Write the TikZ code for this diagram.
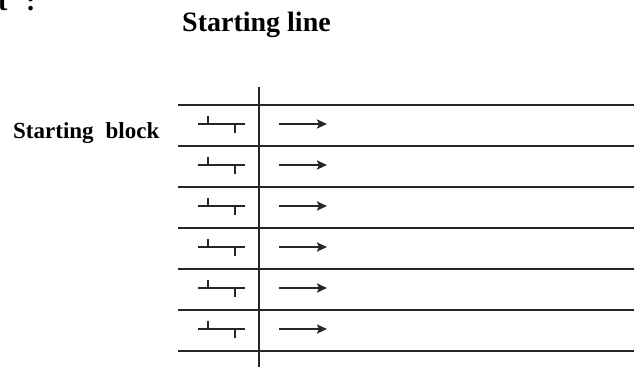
\documentclass[tikz,border=0pt]{standalone}
\usepackage{fontspec}
\setmainfont{Liberation Serif}
\usetikzlibrary{arrows.meta}
\begin{document}
\begin{tikzpicture}[x=1pt,y=-1pt,
  lane/.style={line width=2.5pt,black!85},
  startln/.style={line width=2.7pt,black!85},
  blk/.style={line width=2pt,black!85},
  runarrow/.style={line width=2.1pt,black!85,-{Stealth[length=10pt,width=9pt,inset=2pt]}},
  lbl/.style={inner sep=0pt,anchor=base west,font=\bfseries}]
\useasboundingbox (0,0) rectangle (634,367);
\clip (0,0) rectangle (634,367);
% clipped fragment at the top left
\node[lbl,font=\bfseries\fontsize{28}{30}\selectfont] (frag) at (-2,10) {t};
\node[lbl,font=\bfseries\fontsize{28}{30}\selectfont] (fragcolon) at (26,10) {:};
% labels
\node[lbl,font=\bfseries\fontsize{28}{30}\selectfont] (title) at (182,31) {Starting line};
\node[lbl,font=\bfseries\fontsize{23}{25}\selectfont] (sblock) at (13,138) {Starting\hspace{12pt}block};
% lane lines
\foreach \k in {0,...,6}{
  \pgfmathsetmacro{\yy}{105+41*\k}
  \coordinate (la\k) at (178,\yy);
  \coordinate (lb\k) at (634,\yy);
  \draw[lane] (la\k) -- (lb\k);
}
% starting line
\coordinate (vtop) at (259,87);
\coordinate (vbot) at (259,367);
\draw[startln] (vtop) -- (vbot);
% starting blocks and arrows
\foreach \k in {0,...,5}{
  \pgfmathsetmacro{\yc}{124+41*\k}
  \coordinate (bs\k) at (198,\yc);
  \coordinate (be\k) at (245,\yc);
  \draw[blk] (bs\k) -- (be\k);
  \draw[blk] (208,\yc) -- ++(0,-8.5);
  \draw[blk] (235,\yc) -- ++(0,9);
  \coordinate (as\k) at (279,\yc);
  \coordinate (ae\k) at (327,\yc);
  \draw[runarrow] (as\k) -- (ae\k);
}
\end{tikzpicture}
\end{document}
